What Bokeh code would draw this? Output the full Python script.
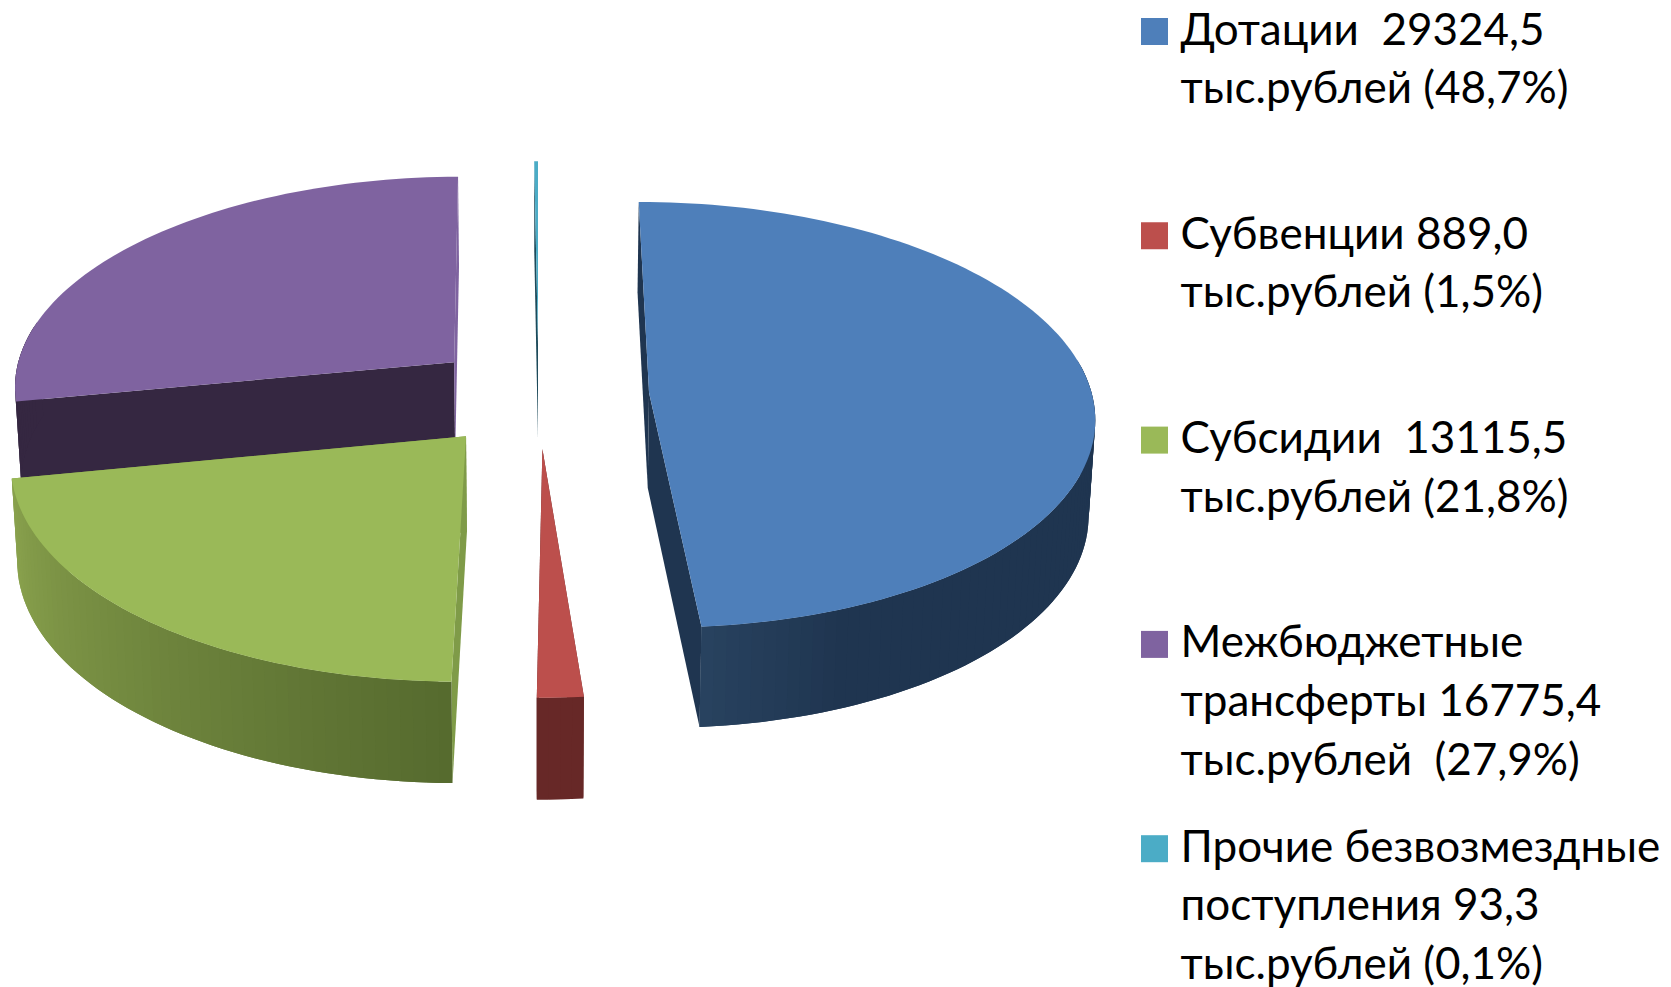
import numpy as np
from bokeh.plotting import figure
from bokeh.embed import file_html
from bokeh.resources import INLINE
from bokeh.core.properties import value
from bokeh.models import Range1d

# ---- data ----
names = ["Дотации", "Субвенции", "Субсидии", "Межбюджетные трансферты", "Прочие безвозмездные поступления"]
values = [29324.5, 889.0, 13115.5, 16775.4, 93.3]
shares = ["48,7%", "1,5%", "21,8%", "27,9%", "0,1%"]
legend_lines = [
    ["Дотации\u00a0 29324,5", "тыс.рублей (48,7%)"],
    ["Субвенции 889,0", "тыс.рублей (1,5%)"],
    ["Субсидии\u00a0 13115,5", "тыс.рублей (21,8%)"],
    ["Межбюджетные", "трансферты 16775,4", "тыс.рублей\u00a0 (27,9%)"],
    ["Прочие безвозмездные", "поступления 93,3", "тыс.рублей (0,1%)"],
]
top_colors = ["#4E7FBA", "#BC4F4C", "#9AB958", "#7F63A0", "#4BACC6"]
cut_start_colors = ["#1F3550", "#672827", "#7F9B48", "#352741", "#1D4A5A"]
cut_end_colors = ["#1F3550", "#672827", "#7F9B48", "#7F63A0", "#1D4A5A"]
wall_back = ["#1F3550", "#672827", "#8AA34E", "#352741", "#1D4A5A"]
wall_front = ["#28425F", "#672827", "#566A2E", "#352741", "#1D4A5A"]

# ---- projection of the exploded 3-D pie ----
X0, Y0, RX, RY, K = 538.0, 394.5, 443.0, 211.0, 0.103
EXPLODE, DEPTH, BOTTOM_SHRINK = 0.25, 95.0, 0.988
FONT = "Lato"
FONT_PX = 44
W, H = 1671, 987


def hex2rgb(c):
    return np.array([int(c[i:i + 2], 16) for i in (1, 3, 5)], float)


def mix(a, b, t):
    r = hex2rgb(a) * (1 - t) + hex2rgb(b) * t
    return "#%02x%02x%02x" % tuple(int(round(x)) for x in r)


def top(u, v):
    s = 1 / (1 + K * v)
    return X0 + RX * u * s, Y0 - RY * v * s


def bottom(u, v):
    s = 1 / (1 + K * v)
    return X0 + RX * u * s * BOTTOM_SHRINK, Y0 - RY * v * s + DEPTH * s ** 0.5


p = figure(width=W, height=H, output_backend="svg", toolbar_location=None,
           x_range=Range1d(0, W), y_range=Range1d(H, 0), min_border=0,
           outline_line_color=None, background_fill_color="white")
p.axis.visible = False
p.grid.visible = False

total = sum(values)
deg = np.cumsum([0] + [v / total * 360 for v in values])
xs, ys, fills = [], [], []


def add(poly, color):
    xs.append([q[0] for q in poly])
    ys.append([q[1] for q in poly])
    fills.append(color)


for i in [4, 3, 0, 2, 1]:
    a0, a1 = np.radians(deg[i]), np.radians(deg[i + 1])
    am = (a0 + a1) / 2
    ox, oy = EXPLODE * np.sin(am), EXPLODE * np.cos(am)
    th = np.linspace(a0, a1, max(3, int((deg[i + 1] - deg[i]) / 1.5) + 2))
    us, vs = ox + np.sin(th), oy + np.cos(th)
    # cut faces
    for ue, ve, col in [(us[0], vs[0], cut_start_colors[i]), (us[-1], vs[-1], cut_end_colors[i])]:
        add([top(ox, oy), top(ue, ve), bottom(ue, ve), bottom(ox, oy)], col)
    # curved wall, in overlapping strips because the reference shades it
    for j in range(len(th) - 1):
        if np.cos(th[j]) > 0.15 and np.cos(th[j + 1]) > 0.15:
            continue  # rear part of the wall, never seen
        tdeg = np.degrees((th[j] + th[j + 1]) / 2)
        if i == 0:
            t = np.clip((tdeg - 158) / 17, 0, 1)
            c = mix(wall_back[i], wall_front[i], t)
        elif i == 2:
            t = np.clip((deg[i + 1] - tdeg) / (deg[i + 1] - deg[i]), 0, 1)
            c = mix(wall_back[i], wall_front[i], t)
        else:
            c = wall_back[i]
        k = min(j + 2, len(th) - 1)
        arc = [top(us[n], vs[n]) for n in range(j, k + 1)]
        low = [bottom(us[n], vs[n]) for n in range(k, j - 1, -1)]
        add(arc + low, c)
    # top face
    add([top(ox, oy)] + [top(a_, b_) for a_, b_ in zip(us, vs)], top_colors[i])

p.patches(xs, ys, fill_color=fills, line_color=None)

# ---- legend ----
LEG_X, LEG_TEXT_X, LEG_Y0, LEG_STEP, LINE_PITCH = 1154.0, 1180.0, 31.0, 204.3, 58.6
for i, lines in enumerate(legend_lines):
    cy = LEG_Y0 + i * LEG_STEP
    p.rect([LEG_X], [cy], width=27, height=27, fill_color=top_colors[i], line_color=None)
    p.text([LEG_TEXT_X] * len(lines), [cy - 4 + k * LINE_PITCH for k in range(len(lines))], text=lines,
           text_font=value(FONT), text_font_size=f"{FONT_PX}px", text_color="#000000",
           text_baseline="alphabetic", text_align="left")

open("out.html", "w").write(file_html(p, INLINE))
